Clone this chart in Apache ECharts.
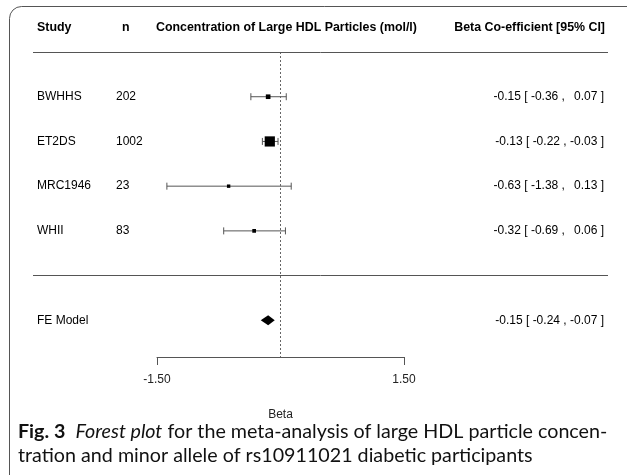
<!DOCTYPE html>
<html><head><meta charset="utf-8">
<script src="https://cdn.jsdelivr.net/npm/echarts@6/dist/echarts.min.js"></script>
<style>html,body{margin:0;padding:0;background:#fff}#c{width:627px;height:475px}</style>
</head><body><div id="c"></div>
<script>
const studies = ['BWHHS', 'ET2DS', 'MRC1946', 'WHII'];
const nValues = ['202', '1002', '23', '83'];
const estimates = [-0.15, -0.13, -0.63, -0.32];
const lower = [-0.36, -0.22, -1.38, -0.69];
const upper = [0.07, -0.03, 0.13, 0.06];
const studyRows = [1, 2, 3, 4];
const summaryLabel = 'FE Model';
const summary = [-0.15, -0.24, -0.07];
const summaryRow = 6;
const xTicks = [-1.5, 1.5];
const headers = ['Study', 'n', 'Concentration of Large HDL Particles (mol/l)', 'Beta Co-efficient [95% CI]'];

const FONT = '"Liberation Sans", Arial, sans-serif';
function fmt(v){ const s = Math.abs(v).toFixed(2); return (v < 0 ? '-' : '\u2009 ') + s; }
function ciText(m, l, h){ return fmt(m) + ' [ ' + fmt(l) + ' , ' + fmt(h) + ' ]'; }

// weights (inverse variance) -> point size scaled to [0.5,1.5]
const w = lower.map((l, i) => { const se = (upper[i] - l) / 3.92; return 1 / (se * se); });
const wMin = Math.min(...w), wMax = Math.max(...w);
const psize = w.map(v => 0.5 + (v - wMin) / (wMax - wMin));

const studyData = studies.map((s, i) => [estimates[i], lower[i], upper[i], studyRows[i], psize[i], i]);

const chart = echarts.init(document.getElementById('c'), null, {renderer: 'canvas'});
const txt = (x, y, text, opt) => ({type: 'text', x: x, y: y, style: Object.assign({text: text, font: '12px ' + FONT, fill: '#000', verticalAlign: 'middle'}, opt || {})});
const ROWFONT = '12px ' + FONT;

chart.setOption({
  animation: false,
  grid: {left: 157, width: 247, top: 52, height: 305},
  xAxis: {
    type: 'value', min: -1.5, max: 1.5, position: 'bottom',
    splitLine: {show: false},
    axisLine: {show: true, onZero: false, lineStyle: {color: '#555', width: 1}},
    axisTick: {show: true, length: 8, lineStyle: {color: '#555'}, customValues: xTicks},
    axisLabel: {customValues: xTicks, formatter: v => v.toFixed(2), color: '#222', fontSize: 12, fontFamily: FONT, margin: 17},
    name: 'Beta', nameLocation: 'middle', nameGap: 52,
    nameTextStyle: {color: '#222', fontSize: 12, fontFamily: FONT}
  },
  yAxis: {type: 'value', min: 0, max: 6.82, inverse: true, show: false},
  series: [
    {
      type: 'custom', coordinateSystem: 'cartesian2d',
      data: studyData,
      encode: {x: [0, 1, 2], y: 3},
      renderItem: function(params, api){
        const m = api.coord([api.value(0), api.value(3)]);
        const l = api.coord([api.value(1), api.value(3)]);
        const h = api.coord([api.value(2), api.value(3)]);
        const y = m[1];
        const s = api.value(4) * 6.8;
        const i = api.value(5);
        const c = '#555';
        return {type: 'group', children: [
          {type: 'line', shape: {x1: l[0], y1: y, x2: h[0], y2: y}, style: {stroke: c, lineWidth: 1}},
          {type: 'line', shape: {x1: l[0], y1: y - 3.5, x2: l[0], y2: y + 3.5}, style: {stroke: c, lineWidth: 1}},
          {type: 'line', shape: {x1: h[0], y1: y - 3.5, x2: h[0], y2: y + 3.5}, style: {stroke: c, lineWidth: 1}},
          {type: 'rect', shape: {x: m[0] - s / 2, y: y - s / 2, width: s, height: s}, style: {fill: '#000'}},
          {type: 'text', x: 37, y: y, style: {text: studies[i], font: ROWFONT, fill: '#000', verticalAlign: 'middle'}},
          {type: 'text', x: 116, y: y, style: {text: nValues[i], font: ROWFONT, fill: '#000', verticalAlign: 'middle'}},
          {type: 'text', x: 604, y: y, style: {text: ciText(estimates[i], lower[i], upper[i]), font: ROWFONT, fill: '#000', verticalAlign: 'middle', align: 'right'}}
        ]};
      }
    },
    {
      type: 'custom', coordinateSystem: 'cartesian2d',
      data: [[summary[0], summary[1], summary[2], summaryRow]],
      encode: {x: [0, 1, 2], y: 3},
      renderItem: function(params, api){
        const m = api.coord([api.value(0), api.value(3)]);
        const l = api.coord([api.value(1), api.value(3)]);
        const h = api.coord([api.value(2), api.value(3)]);
        const y = m[1];
        return {type: 'group', children: [
          {type: 'polygon', shape: {points: [[l[0], y], [m[0], y - 5], [h[0], y], [m[0], y + 5]]}, style: {fill: '#000'}},
          {type: 'text', x: 37, y: y, style: {text: summaryLabel, font: ROWFONT, fill: '#000', verticalAlign: 'middle'}},
          {type: 'text', x: 604, y: y, style: {text: ciText(summary[0], summary[1], summary[2]), font: ROWFONT, fill: '#000', verticalAlign: 'middle', align: 'right'}}
        ]};
      }
    },
    {
      type: 'line', data: [], silent: true,
      markLine: {
        symbol: 'none', silent: true, label: {show: false},
        lineStyle: {type: [2, 2], color: '#666', width: 1},
        data: [
          {xAxis: 0}
        ]
      }
    },
    {
      type: 'line', data: [], silent: true,
      markLine: {
        symbol: 'none', silent: true, label: {show: false},
        lineStyle: {type: 'solid', color: '#555', width: 1},
        data: [
          [{x: 33, yAxis: 0}, {x: 608, yAxis: 0}],
          [{x: 33, yAxis: 5}, {x: 608, yAxis: 5}]
        ]
      }
    }
  ],
  graphic: [
    {type: 'rect', shape: {x: 9.5, y: 6.5, width: 640, height: 490, r: 12}, style: {fill: 'none', stroke: '#555', lineWidth: 1}, silent: true, z: -1},
    txt(37, 28, headers[0], {font: 'bold 12.4px ' + FONT}),
    txt(122, 28, headers[1], {font: 'bold 12.4px ' + FONT}),
    txt(156, 28, headers[2], {font: 'bold 12.4px ' + FONT}),
    txt(605, 28, headers[3], {font: 'bold 12.4px ' + FONT, align: 'right'}),
    {type: 'text', x: 18, y: 420, style: {
      text: '{b|Fig. 3}  {i|Forest plot} for the meta-analysis of large HDL particle concen-\ntration and minor allele of rs10911021 diabetic participants',
      font: '19.7px Lato', fill: '#111', lineHeight: 24,
      rich: {b: {fontWeight: 'bold', fontSize: 19.7, fontFamily: 'Lato', lineHeight: 24}, i: {fontStyle: 'italic', fontSize: 19.7, fontFamily: 'Lato', lineHeight: 24}}
    }}
  ]
});
</script></body></html>
